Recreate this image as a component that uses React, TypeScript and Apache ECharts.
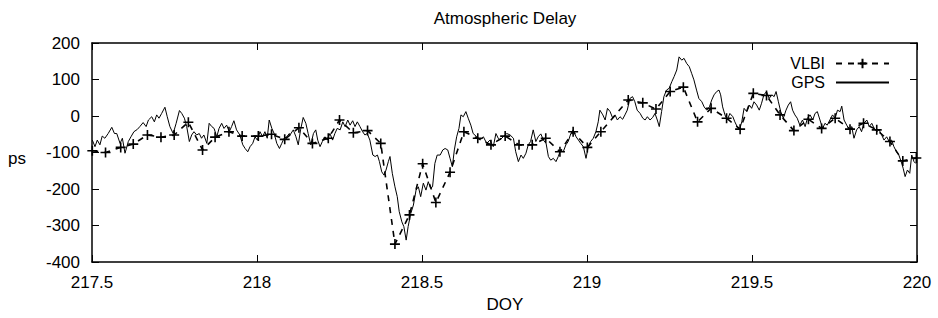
import React, { useEffect, useRef } from "react";
import * as echarts from "echarts";

const FONT = "'Liberation Sans', Arial, Helvetica, sans-serif";

const chartTitle = "Atmospheric Delay";
const xName = "DOY";
const yName = "ps";
const xMin = 217.5;
const xMax = 220;
const xStep = 0.5;
const yMin = -400;
const yMax = 200;
const yStep = 100;

const vlbiData: [number, number][] = [
  [217.501, -95], [217.541, -100], [217.587, -86], [217.625, -77], [217.668, -52],
  [217.709, -58], [217.749, -52], [217.792, -17], [217.835, -93], [217.873, -58],
  [217.915, -43], [217.955, -55], [218.004, -55], [218.044, -50], [218.084, -64],
  [218.127, -32], [218.168, -75], [218.216, -61], [218.25, -11], [218.292, -46],
  [218.335, -40], [218.375, -75], [218.418, -351], [218.462, -271], [218.502, -131],
  [218.542, -237], [218.585, -154], [218.627, -43], [218.669, -61], [218.709, -79],
  [218.752, -55], [218.794, -79], [218.834, -79], [218.875, -61], [218.918, -98],
  [218.958, -43], [219.001, -86], [219.042, -43], [219.125, 44], [219.169, 36],
  [219.209, 19], [219.252, 67], [219.292, 79], [219.335, -16], [219.376, 21],
  [219.423, -6], [219.464, -36], [219.504, 62], [219.544, 56], [219.585, 3],
  [219.627, -40], [219.671, -9], [219.711, -34], [219.752, -6], [219.797, -36],
  [219.838, -20], [219.878, -38], [219.918, -70], [219.957, -123], [219.998, -115],
];

const gpsDay1: [number, number][] = [
  [217.501, -66], [217.509, -84], [217.516, -66], [217.524, -79], [217.531, -55],
  [217.539, -61], [217.549, -48], [217.56, -31], [217.568, -48], [217.575, -48],
  [217.585, -75], [217.592, -61], [217.6, -102], [217.61, -70], [217.618, -57],
  [217.627, -43], [217.637, -37], [217.645, -29], [217.655, -18], [217.664, -29],
  [217.671, -11], [217.681, -2], [217.689, -16], [217.696, 3], [217.703, -6],
  [217.711, 7], [217.721, 24], [217.728, -2], [217.736, -29], [217.746, -48],
  [217.755, -20], [217.765, 15], [217.772, 7], [217.78, -6], [217.787, -29],
  [217.795, -70], [217.802, -52], [217.809, -43], [217.817, -52], [217.825, -48],
  [217.832, -61], [217.839, -52], [217.848, -75], [217.855, -20], [217.863, -29],
  [217.87, -34], [217.878, -57], [217.885, -34], [217.893, -20], [217.9, -34],
  [217.908, -25], [217.916, -43], [217.923, -29], [217.93, -13], [217.938, -38],
  [217.948, -52], [217.957, -79], [217.964, -89], [217.972, -98], [217.979, -84],
  [217.987, -75], [217.994, -57], [218.001, -66], [218.009, -43], [218.017, -57],
  [218.024, -43], [218.031, -61], [218.037, -11], [218.045, -34], [218.052, -48],
  [218.06, -75], [218.068, -89], [218.075, -75], [218.082, -61], [218.09, -57],
  [218.098, -48],
];

const gpsDay2: [number, number][] = [
  [218.1, -52], [218.11, -38], [218.118, -57], [218.125, -79], [218.132, -38],
  [218.14, -4], [218.148, -20], [218.155, -48], [218.163, -79], [218.171, -48],
  [218.178, -38], [218.184, -66], [218.191, -84], [218.198, -70], [218.206, -57],
  [218.213, -66], [218.221, -48], [218.229, -66], [218.236, -48], [218.243, -34],
  [218.252, -38], [218.26, -16], [218.267, -29], [218.275, -11], [218.282, -25],
  [218.29, -13], [218.297, -29], [218.304, -16], [218.312, -29], [218.32, -43],
  [218.327, -52], [218.334, -48], [218.342, -66], [218.351, -107], [218.358, -111],
  [218.365, -107], [218.371, -125], [218.378, -153], [218.385, -162], [218.391, -148],
  [218.398, -125], [218.403, -111], [218.41, -157], [218.418, -194], [218.425, -221],
  [218.431, -262], [218.439, -290], [218.445, -303], [218.452, -340], [218.458, -303],
  [218.466, -267], [218.474, -244], [218.482, -203], [218.489, -194], [218.496, -221],
  [218.504, -184], [218.512, -203], [218.519, -180], [218.526, -198], [218.532, -194],
  [218.539, -130], [218.546, -107], [218.555, -107], [218.563, -93], [218.57, -89],
  [218.578, -93], [218.585, -116], [218.592, -139], [218.598, -93], [218.605, -57],
  [218.612, -34], [218.618, 3], [218.625, -2], [218.633, 12], [218.64, -6],
  [218.648, -25], [218.655, -48], [218.666, -57], [218.676, -66], [218.686, -57],
  [218.696, -75], [218.706, -66], [218.716, -84], [218.724, -48], [218.731, -61],
];

const gpsDay3: [number, number][] = [
  [218.736, -66], [218.746, -57], [218.757, -48], [218.767, -52], [218.777, -61],
  [218.784, -98], [218.792, -125], [218.8, -107], [218.807, -116], [218.815, -102],
  [218.822, -79], [218.829, -70], [218.837, -38], [218.845, -70], [218.852, -57],
  [218.86, -49], [218.868, -66], [218.876, -75], [218.883, -111], [218.89, -121],
  [218.898, -116], [218.906, -125], [218.913, -111], [218.92, -93], [218.928, -98],
  [218.936, -79], [218.943, -70], [218.951, -48], [218.958, -38], [218.967, -57],
  [218.974, -66], [218.981, -75], [218.989, -84], [218.997, -116], [219.004, -84],
  [219.011, -70], [219.019, -61], [219.027, -43], [219.034, -16], [219.039, 16],
  [219.048, 3], [219.055, -11], [219.062, 21], [219.07, 12], [219.078, -6],
  [219.085, 3], [219.092, -11], [219.1, -2], [219.108, -9], [219.115, 3],
  [219.122, 16], [219.13, 48], [219.138, 53], [219.145, 39], [219.152, 16],
  [219.161, 7], [219.169, -6], [219.176, -11], [219.183, -2], [219.191, -11],
  [219.199, -4], [219.206, 7], [219.213, -11], [219.219, -29], [219.226, 12],
  [219.233, 53], [219.241, 71], [219.249, 76], [219.257, 94], [219.264, 108],
  [219.272, 126], [219.279, 162], [219.287, 153], [219.294, 158], [219.302, 144],
  [219.31, 135], [219.317, 117], [219.324, 99], [219.332, 71], [219.339, 48],
  [219.348, 39], [219.355, 25], [219.363, 16], [219.371, 25], [219.378, 44],
  [219.385, 58], [219.393, 67], [219.4, 71], [219.405, 58],
];

const gpsDay4: [number, number][] = [
  [219.411, 25], [219.418, 3], [219.425, -11], [219.433, 7], [219.442, -2],
  [219.448, -16], [219.455, -29], [219.462, -38], [219.469, -16], [219.476, 21],
  [219.484, 12], [219.492, 30], [219.499, 21], [219.506, 39], [219.514, 30],
  [219.522, 16], [219.529, 35], [219.536, 58], [219.544, 67], [219.552, 48],
  [219.56, 58], [219.567, 53], [219.573, 67], [219.58, 39], [219.587, 12],
  [219.595, -6], [219.603, 16], [219.61, 30], [219.617, 39], [219.623, 16],
  [219.63, 3], [219.637, -6], [219.645, -25], [219.653, -11], [219.661, -29],
  [219.668, -6], [219.676, 3], [219.684, -11], [219.691, 7], [219.698, 12],
  [219.706, -11], [219.714, -34], [219.721, -20], [219.728, -25], [219.736, -11],
  [219.744, 3], [219.752, -6], [219.759, 16], [219.767, 12], [219.772, 27],
  [219.779, -11], [219.787, -25], [219.795, -38], [219.802, -29], [219.809, -61],
  [219.817, -38], [219.825, -29], [219.832, -43], [219.839, -20], [219.848, -11],
  [219.855, -29], [219.863, -20], [219.87, -34], [219.878, -43], [219.885, -38],
  [219.893, -52], [219.9, -66], [219.908, -57], [219.916, -70], [219.923, -66],
  [219.93, -84], [219.938, -98], [219.945, -107], [219.952, -125], [219.958, -143],
  [219.964, -166], [219.971, -148], [219.978, -157], [219.984, -107], [219.991, -125],
  [219.996, -130],
];

const gpsData = [...gpsDay1, ...gpsDay2, ...gpsDay3, ...gpsDay4];

const PLUS = "path://M0,5L10,5M5,0L5,10";
const FS = 17;

export default function App() {
  const ref = useRef<HTMLDivElement>(null);
  useEffect(() => {
    if (!ref.current) return;
    const chart = echarts.init(ref.current, undefined, { renderer: "svg" });
    const frame = { show: true, onZero: false, lineStyle: { color: "#000", width: 1.5 } };
    const tick = { show: true, inside: true, length: 7, lineStyle: { color: "#000", width: 1 } };
    const label = { color: "#000", fontSize: FS, fontFamily: FONT };
    const txt = (text: string, x: number, y: number) => ({
      type: "text", x, y,
      style: { text, align: "center", verticalAlign: "middle", fontSize: FS, fontFamily: FONT, fill: "#000" },
    });
    chart.setOption({
      animation: false,
      backgroundColor: "#fff",
      grid: { left: 92, right: 21, top: 43, bottom: 56 },
      xAxis: [
        {
          type: "value", min: xMin, max: xMax, interval: xStep, position: "bottom",
          axisLine: frame, axisTick: tick, splitLine: { show: false },
          axisLabel: { ...label, margin: 12, formatter: (v: number) => String(v) },
        },
        {
          type: "value", min: xMin, max: xMax, interval: xStep, position: "top",
          axisLine: frame, axisTick: tick, splitLine: { show: false }, axisLabel: { show: false },
        },
      ],
      yAxis: [
        {
          type: "value", min: yMin, max: yMax, interval: yStep, position: "left",
          axisLine: frame, axisTick: tick, splitLine: { show: false },
          axisLabel: { ...label, margin: 12 },
        },
        {
          type: "value", min: yMin, max: yMax, interval: yStep, position: "right",
          axisLine: frame, axisTick: tick, splitLine: { show: false }, axisLabel: { show: false },
        },
      ],
      legend: {
        data: [
          { name: "VLBI" },
          { name: "GPS", itemStyle: { color: "transparent", borderColor: "transparent", borderWidth: 0 } },
        ],
        orient: "vertical",
        right: 43,
        top: 50,
        align: "right",
        itemWidth: 53,
        itemHeight: 12,
        itemGap: 2,
        selectedMode: false,
        textStyle: { color: "#000", fontSize: 16, lineHeight: 17, fontFamily: FONT, padding: [0, 6, 0, 0] },
      },
      graphic: [
        txt(chartTitle, 505, 18),
        txt(xName, 505, 304),
        txt(yName, 17, 158),
      ],
      series: [
        {
          name: "VLBI", type: "line", data: vlbiData,
          symbol: PLUS, symbolSize: 10, showSymbol: true,
          lineStyle: { color: "#000", width: 1.6, type: [6, 6] },
          itemStyle: { color: "#000", borderColor: "#000", borderWidth: 1.6 },
          z: 3,
        },
        {
          name: "GPS", type: "line", data: gpsData, symbol: "none",
          lineStyle: { color: "#000", width: 1 },
          itemStyle: { color: "#000" },
          z: 2,
        },
      ],
    });
    return () => chart.dispose();
  }, []);
  return <div ref={ref} style={{ position: "fixed", left: 0, top: 0, width: 938, height: 318 }} />;
}
